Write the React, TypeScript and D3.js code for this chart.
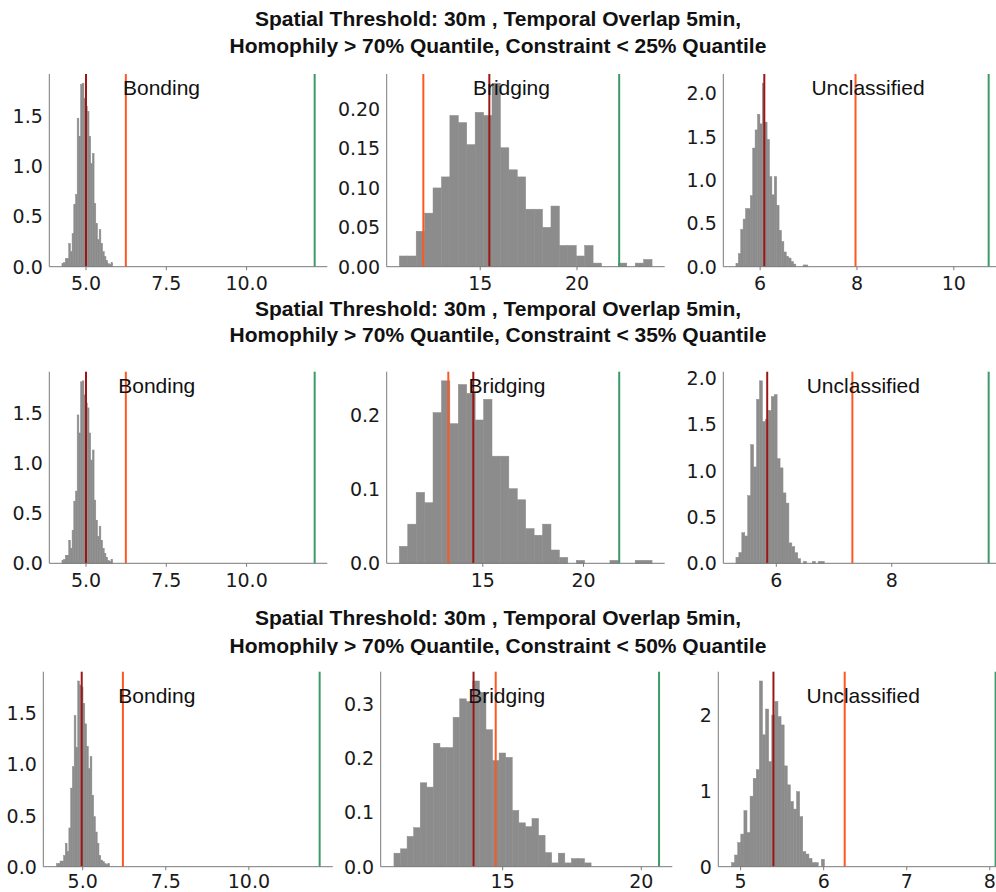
import React from "react";
import * as d3 from "d3";

const W = 996;
const H = 892;

// ---- text ----
const categories = ["Bonding", "Bridging", "Unclassified"];
const titleLine1 = "Spatial Threshold: 30m , Temporal Overlap 5min,";
const constraintQuantiles = ["25%", "35%", "50%"];
const homophilyQuantile = "70%";

// ---- histogram densities (30 equal-width bins per panel) ----
const bonding25 = [0.03, 0.04, 0.08, 0.08, 0.23, 0.15, 0.33, 0.62, 0.72, 1.48, 1.3, 1.82, 1.83, 1.68, 1.6, 1.55, 1.3, 1.03, 1.13, 0.63, 0.43, 0.27, 0.37, 0.23, 0.15, 0.1, 0.06, 0.03, 0.02, 0.04];
const bridging25 = [0.0136, 0.0136, 0.045, 0.068, 0.1, 0.114, 0.192, 0.183, 0.155, 0.196, 0.192, 0.233, 0.151, 0.123, 0.114, 0.073, 0.073, 0.05, 0.077, 0.027, 0.027, 0.0136, 0.027, 0.0046, 0, 0, 0.0046, 0, 0.0046, 0.0092];
const unclassified25 = [0.04, 0.15, 0.43, 0.55, 0.67, 0.67, 0.82, 1.37, 1.58, 1.76, 1.65, 2.12, 1.67, 1.47, 1.04, 0.83, 1.04, 0.71, 0.42, 0.29, 0.17, 0.12, 0.1, 0.06, 0.03, 0, 0, 0, 0.02, 0.02];

const bonding35 = [0.03, 0.04, 0.08, 0.08, 0.23, 0.15, 0.33, 0.62, 0.72, 1.48, 1.3, 1.81, 1.82, 1.68, 1.6, 1.55, 1.3, 1.03, 1.13, 0.63, 0.43, 0.27, 0.37, 0.23, 0.15, 0.1, 0.06, 0.03, 0.02, 0.04];
const bridging35 = [0.023, 0.053, 0.096, 0.082, 0.204, 0.247, 0.189, 0.242, 0.23, 0.194, 0.222, 0.145, 0.145, 0.101, 0.086, 0.047, 0.038, 0.053, 0.018, 0.008, 0, 0.004, 0, 0, 0, 0.004, 0, 0, 0.004, 0.004];
const unclassified35 = [0.065, 0.115, 0.33, 0.295, 0.73, 1.28, 1.04, 1.77, 1.97, 1.53, 1.55, 1.65, 1.8, 1.82, 1.13, 1.03, 0.76, 0.65, 0.22, 0.18, 0.115, 0.05, 0, 0.02, 0, 0, 0.02, 0, 0.02, 0.02];

const bonding50 = [0.03, 0.03, 0.055, 0.055, 0.11, 0.23, 0.15, 0.38, 0.77, 0.98, 1.48, 1.17, 1.82, 1.78, 1.76, 1.6, 1.4, 1.18, 0.96, 1.08, 0.7, 0.49, 0.34, 0.23, 0.11, 0.065, 0.05, 0.03, 0.02, 0.03];
const bridging50 = [0.025, 0.033, 0.056, 0.072, 0.155, 0.147, 0.228, 0.22, 0.22, 0.276, 0.31, 0.305, 0.343, 0.322, 0.253, 0.196, 0.21, 0.202, 0.104, 0.081, 0.074, 0.089, 0.058, 0.026, 0.007, 0.025, 0.007, 0.015, 0.015, 0.007];
const unclassified50 = [0.053, 0.154, 0.317, 0.43, 0.74, 0.45, 0.93, 1.165, 1.28, 2.45, 1.74, 2.08, 1.385, 2.0, 2.18, 1.98, 1.87, 1.33, 1.08, 0.86, 0.76, 0.99, 0.66, 0.2, 0.167, 0.11, 0.053, 0.053, 0, 0.097];

const densities = [
  [bonding25, bridging25, unclassified25],
  [bonding35, bridging35, unclassified35],
  [bonding50, bridging50, unclassified50],
];

// first bin edge and bin width for each panel
const binStarts = [
  [4.25, 10.82, 5.5],
  [4.25, 10.86, 5.3],
  [4.21, 11.08, 4.89],
];
const binWidths = [
  [0.0527, 0.4353, 0.0495],
  [0.0527, 0.418, 0.051],
  [0.0533, 0.237, 0.0373],
];

// reference values drawn as vertical lines
const darkRedLines = [
  [5.0, 15.47, 6.086],
  [5.0, 14.53, 5.842],
  [4.97, 13.95, 5.395],
];
const orangeLines = [
  [6.24, 12.06, 7.97],
  [6.24, 13.29, 7.318],
  [6.21, 14.75, 6.253],
];
const greenLines = [
  [12.12, 22.18, 10.72],
  [12.12, 21.77, 9.68],
  [12.13, 20.64, 8.07],
];

// ---- tick values ----
const xTicks = [
  [[5, 7.5, 10], [15, 20], [6, 8, 10]],
  [[5, 7.5, 10], [15, 20], [6, 8]],
  [[5, 7.5, 10], [15, 20], [5, 6, 7, 8]],
];
const xTickDecimals = [1, 0, 0];
const yTicks = [
  [[0, 0.5, 1, 1.5], [0, 0.05, 0.1, 0.15, 0.2], [0, 0.5, 1, 1.5, 2]],
  [[0, 0.5, 1, 1.5], [0, 0.1, 0.2], [0, 0.5, 1, 1.5, 2]],
  [[0, 0.5, 1, 1.5], [0, 0.1, 0.2, 0.3], [0, 1, 2]],
];
const yTickDecimals = [
  [1, 2, 1],
  [1, 1, 1],
  [1, 1, 0],
];

// ---- layout ----
const rowTop = [74, 371.7, 671.7];
const rowHeight = [192.7, 191.6, 195];
const colLeft = [
  [49.3, 386.7, 723.3],
  [49.3, 386.7, 723.3],
  [43.3, 380.7, 718.3],
];
const colWidth = [
  [278, 278, 278],
  [278, 278, 278],
  [289.5, 291.6, 290.5],
];
const labelFrac = [
  [0.265, 0.31, 0.317],
  [0.248, 0.294, 0.3],
  [0.259, 0.3, 0.304],
];
const labelBaseline = [21, 21.6, 31.6];
const xLabelBaseline = [23.5, 23.5, 21.5];
const titleCenters = [
  [18, 45],
  [308, 334],
  [617, 645],
];
// vertical band each row's titles are drawn within
const titleBands = [
  [0, 70],
  [297, 368],
  [598, 655],
];

const HIST = "#8c8c8c";
const SPINE = "#7a7a7a";
const RED = "#9e1515";
const ORANGE = "#ff5722";
const GREEN = "#3b9a68";
const TICK_FONT = "DejaVu Sans, sans-serif";
const LABEL_FONT = "Liberation Sans, Arial, sans-serif";

function Panel({ r, c }: { r: number; c: number }) {
  const dens = densities[r][c];
  const start = binStarts[r][c];
  const bw = binWidths[r][c];
  const end = start + dens.length * bw;
  const vlines = [
    { v: darkRedLines[r][c], color: RED },
    { v: orangeLines[r][c], color: ORANGE },
    { v: greenLines[r][c], color: GREEN },
  ];
  const lo = Math.min(start, ...vlines.map((d) => d.v));
  const hi = Math.max(end, ...vlines.map((d) => d.v));
  const pad = (hi - lo) * 0.05;

  const left = colLeft[r][c];
  const width = colWidth[r][c];
  const top = rowTop[r];
  const height = rowHeight[r];
  const bottom = top + height;

  const x = d3.scaleLinear().domain([lo - pad, hi + pad]).range([left, left + width]);
  const y = d3
    .scaleLinear()
    .domain([0, (d3.max(dens) as number) * 1.05])
    .range([bottom, top]);

  const xfmt = d3.format(`.${xTickDecimals[c]}f`);
  const yfmt = d3.format(`.${yTickDecimals[r][c]}f`);

  return (
    <g>
      {dens.map((d, i) => {
        if (d <= 0) return null;
        const x0 = x(start + i * bw);
        const x1 = x(start + (i + 1) * bw);
        return (
          <rect
            key={i}
            x={x0}
            y={y(d)}
            width={x1 - x0}
            height={y(0) - y(d)}
            fill={HIST}
            stroke={HIST}
            strokeWidth={0.5}
          />
        );
      })}
      {vlines.map((l, i) => (
        <line
          key={i}
          x1={x(l.v)}
          x2={x(l.v)}
          y1={top}
          y2={bottom}
          stroke={l.color}
          strokeWidth={2}
        />
      ))}
      <line x1={left} x2={left} y1={top} y2={bottom} stroke={SPINE} strokeWidth={1} />
      <line x1={left} x2={left + width} y1={bottom} y2={bottom} stroke={SPINE} strokeWidth={1} />
      {xTicks[r][c].map((t) => (
        <g key={t}>
          <line x1={x(t)} x2={x(t)} y1={bottom} y2={bottom + 3.5} stroke={SPINE} strokeWidth={1} />
          <text
            x={x(t)}
            y={bottom + xLabelBaseline[r]}
            textAnchor="middle"
            fontFamily={TICK_FONT}
            fontSize={19}
            fill="#1a1a1a"
          >
            {xfmt(t)}
          </text>
        </g>
      ))}
      {yTicks[r][c].map((t) => (
        <text
          key={t}
          x={left - 6.5}
          y={y(t)}
          dy="0.36em"
          textAnchor="end"
          fontFamily={TICK_FONT}
          fontSize={19}
          fill="#1a1a1a"
        >
          {yfmt(t)}
        </text>
      ))}
      <text
        x={left + width * labelFrac[r][c]}
        y={top + labelBaseline[r]}
        fontFamily={LABEL_FONT}
        fontSize={21}
        fill="#111"
      >
        {categories[c]}
      </text>
    </g>
  );
}

export default function App() {
  return (
    <svg
      width={W}
      height={H}
      viewBox={`0 0 ${W} ${H}`}
      style={{ position: "absolute", left: 0, top: 0, background: "#fff" }}
    >
      <defs>
        {titleBands.map((b, r) => (
          <clipPath key={r} id={`title-band-${r}`}>
            <rect x={0} y={b[0]} width={W} height={b[1] - b[0]} />
          </clipPath>
        ))}
      </defs>
      <rect width={W} height={H} fill="#fff" />
      {constraintQuantiles.map((q, r) => (
        <g key={q}>
          <g clipPath={`url(#title-band-${r})`}>
            <text
              x={W / 2}
              y={titleCenters[r][0]}
              dy="0.36em"
              textAnchor="middle"
              fontFamily={LABEL_FONT}
              fontWeight="bold"
              fontSize={21}
              fill="#111"
            >
              {titleLine1}
            </text>
            <text
              x={W / 2}
              y={titleCenters[r][1]}
              dy="0.36em"
              textAnchor="middle"
              fontFamily={LABEL_FONT}
              fontWeight="bold"
              fontSize={21}
              fill="#111"
            >
              {`Homophily > ${homophilyQuantile} Quantile, Constraint < ${q} Quantile`}
            </text>
          </g>
          {categories.map((_, c) => (
            <Panel key={c} r={r} c={c} />
          ))}
        </g>
      ))}
    </svg>
  );
}
